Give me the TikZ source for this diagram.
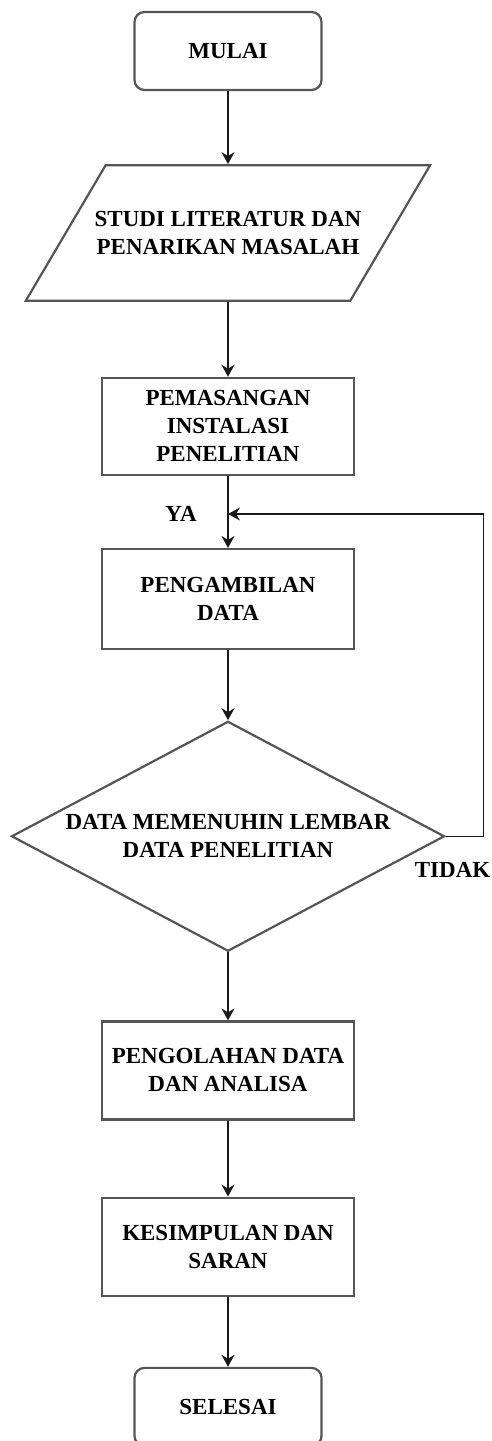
\documentclass[tikz,border=0pt]{standalone}
\usepackage{fontspec}
\setmainfont{Liberation Serif}
\usepackage{xcolor}
\usepackage{tikz}
\usetikzlibrary{positioning,arrows.meta,shapes.geometric}
\definecolor{flowline}{HTML}{555555}
\definecolor{flowarrow}{HTML}{1A1A1A}

\begin{document}
\begin{tikzpicture}[
  font=\fontsize{11.5}{14}\selectfont\bfseries,
  terminal/.style={draw=flowline, line width=1.1pt, rounded corners=5pt, align=center,
                   minimum width=93.5pt, minimum height=39pt},
  pbox/.style={draw=flowline, line width=1.1pt, align=center, inner sep=2pt,
               minimum width=126pt, minimum height=49pt},
  iobox/.style={draw=flowline, line width=1.1pt, trapezium, trapezium left angle=59.5,
                trapezium right angle=120.5, trapezium stretches body=true, align=center,
                inner xsep=-5.5pt, inner ysep=23pt, minimum width=202pt},
  decision/.style={draw=flowline, line width=1.1pt, diamond, aspect=1.9, align=center,
                   inner sep=0pt, minimum width=216.5pt, minimum height=115pt},
  arr/.style={-{Stealth[length=6pt, width=6.5pt, inset=2pt]}, line width=0.9pt, flowarrow},
  lab/.style={inner sep=0pt},
  node distance=36.5pt
]
\useasboundingbox (0,0) rectangle (246pt,-720.5pt);
% ----- main column -----
\node[terminal] (mulai) at (114pt,-25.5pt) {MULAI};
\node[iobox, below=of mulai] (studi) {STUDI LITERATUR DAN\\PENARIKAN MASALAH};
\node[pbox, below=37.5pt of studi, minimum height=48.5pt] (pasang) {PEMASANGAN\\INSTALASI\\PENELITIAN};
\node[pbox, below=36pt of pasang, minimum height=50pt] (ambil) {PENGAMBILAN\\DATA};
\node[decision, below=35pt of ambil] (cek) {DATA MEMENUHIN LEMBAR\\DATA PENELITIAN};
\node[pbox, below=34pt of cek] (olah) {PENGOLAHAN DATA\\DAN ANALISA};
\node[pbox, below=38pt of olah] (simpul) {KESIMPULAN DAN\\SARAN};
\node[terminal, below=35pt of simpul] (selesai) {SELESAI};
\foreach \a/\b in {mulai/studi, studi/pasang, pasang/ambil, ambil/cek, cek/olah, olah/simpul, simpul/selesai}{\draw[arr] (\a) -- (\b);}
% ----- loop back, right side -----
\coordinate[below=19pt of pasang.south] (join);
\draw[arr, line width=0.7pt] (cek.east) -- ++(19pt,0) |- (join);
\node[lab, left=15.5pt of join] (ya) {YA};
\node[lab] (tidak) at ([xshift=3.5pt, yshift=-17pt]cek.east) {TIDAK};
\end{tikzpicture}
\end{document}
